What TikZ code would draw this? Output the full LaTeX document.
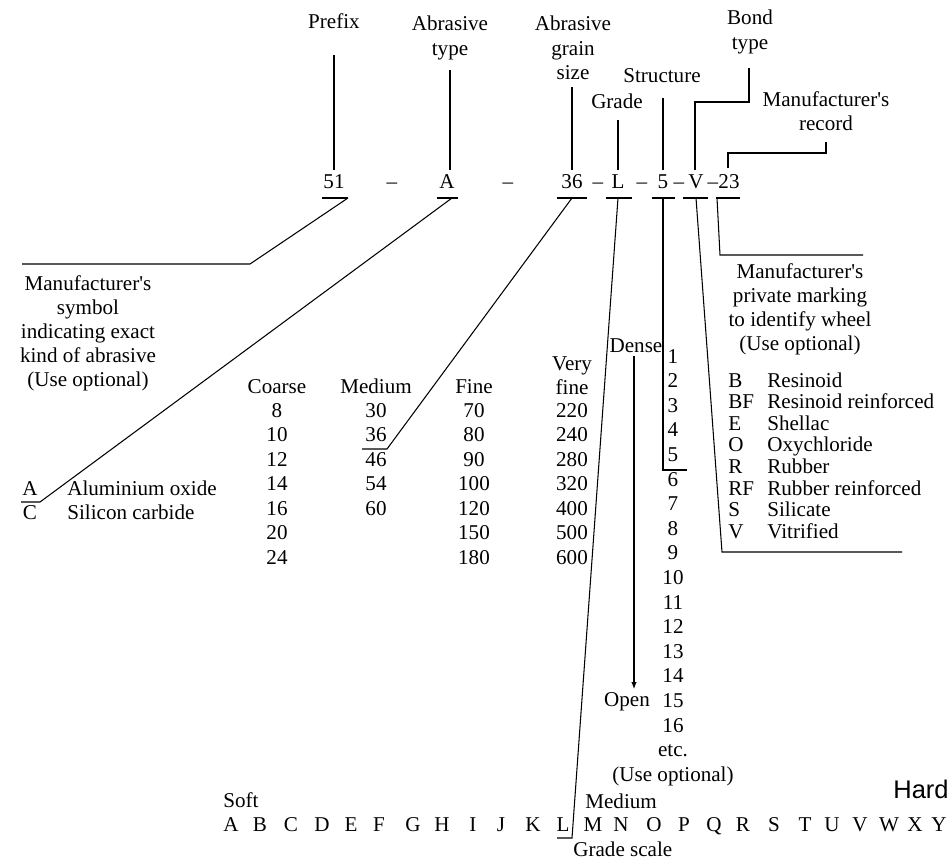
\documentclass[tikz,border=0pt]{standalone}
\usepackage{fontspec}
\setmainfont{Liberation Serif}
\newfontfamily\hardfont{Liberation Sans}
\usetikzlibrary{arrows.meta}

\newcommand{\apos}{\textquotesingle}

\tikzset{
  lbl/.style={inner sep=0pt, text height=1.5ex, text depth=.25ex},
  multi/.style={inner sep=0pt, align=center, anchor=north},
  lead/.style={line width=0.6pt},
}

\begin{document}
\begin{tikzpicture}[x=0.02cm, y=-0.02cm, every node/.style={font=\fontsize{12}{13.7}\selectfont}]
    \useasboundingbox (0,0) rectangle (950,862);

    % headings above the marking
    \node [lbl] (prefix) at (334, 23) {Prefix};
    \node [multi] (abtype) at (450, 16) {Abrasive\\type};
    \node [multi] (grain) at (573, 16) {Abrasive\\grain\\size};
    \node [lbl] (struct) at (662, 77) {Structure};
    \node [lbl] (grade) at (617, 103) {Grade};
    \node [multi] (bond) at (750, 10) {Bond\\type};
    \node [multi] (record) at (826, 91) {Manufacturer\apos s\\record};

    % the marking
    \node [lbl] (c51) at (334, 183) {51};
    \node [lbl] (d1) at (392, 183) {--};
    \node [lbl] (cA) at (447, 183) {A};
    \node [lbl] (d2) at (508, 183) {--};
    \node [lbl] (c36) at (572, 183) {36};
    \node [lbl] (d3) at (598, 183) {--};
    \node [lbl] (cL) at (618, 183) {L};
    \node [lbl] (d4) at (642, 183) {--};
    \node [lbl] (c5) at (663, 183) {5};
    \node [lbl] (d5) at (679, 183) {--};
    \node [lbl] (cV) at (696, 183) {V};
    \node [lbl] (d6) at (713, 183) {--};
    \node [lbl] (c23) at (729, 183) {23};

    \coordinate (pfxT) at (334, 55);   \coordinate (pfxB) at (334, 170);
    \coordinate (abtT) at (450, 70);   \coordinate (abtB) at (450, 170);
    \coordinate (grnT) at (572, 87);   \coordinate (grnB) at (572, 170);
    \coordinate (grdT) at (618, 120);  \coordinate (grdB) at (618, 170);
    \coordinate (strT) at (663, 98);   \coordinate (strB) at (663, 170);
    \coordinate (bndT) at (749, 68);   \coordinate (bndB) at (695, 170);
    \coordinate (recT) at (826, 142);  \coordinate (recB) at (728, 168);

    \draw [lead] (pfxT) -- (pfxB);
    \draw [lead] (abtT) -- (abtB);
    \draw [lead] (grnT) -- (grnB);
    \draw [lead] (grdT) -- (grdB);
    \draw [lead] (strT) -- (strB);
    \draw [lead] (bndT) -- ++(0, 34) -| (bndB);
    \draw [lead] (recT) -- ++(0, 11) -| (recB);

    % underlines
    \draw [lead] (322, 198) -- (348, 198);
    \draw [lead] (437, 198) -- (458, 198);
    \draw [lead] (557, 198) -- (587, 198);
    \draw [lead] (606, 198) -- (632, 198);
    \draw [lead] (652, 198) -- (675, 198);
    \draw [lead] (683, 198) -- (708, 198);
    \draw [lead] (716, 198) -- (740, 198);

    % manufacturer's symbol
    \node [multi] (symbol) at (88, 275) {Manufacturer\apos s\\symbol\\indicating exact\\kind of abrasive\\(Use optional)};
    \draw [lead] (348, 198) -- (250, 264) -- (22, 264);

    % abrasive type
    \node [lbl] (tA) at (30, 490) {A};
    \node [lbl, anchor=west] (alox) at (67, 490) {Aluminium oxide};
    \node [lbl] (tC) at (30, 514) {C};
    \node [lbl, anchor=west] (sic) at (67, 514) {Silicon carbide};
    \draw [lead] (452, 198) -- (40, 502) -- (21, 502);

    % grain size table
    \node [lbl] (coarse) at (277, 388) {Coarse};
    \node [lbl] (medium) at (376, 388) {Medium};
    \node [lbl] (fine) at (474, 388) {Fine};
    \node [multi] (vfine) at (572, 356) {Very\\fine};
    \foreach \v [count=\i from 0] in {8,10,12,14,16,20,24}
        \node [lbl] (co\i) at (277, {412+24.5*\i}) {\v};
    \foreach \v [count=\i from 0] in {30,36,46,54,60}
        \node [lbl] (me\i) at (376, {412+24.5*\i}) {\v};
    \foreach \v [count=\i from 0] in {70,80,90,100,120,150,180}
        \node [lbl] (fi\i) at (474, {412+24.5*\i}) {\v};
    \foreach \v [count=\i from 0] in {220,240,280,320,400,500,600}
        \node [lbl] (vf\i) at (572, {412+24.5*\i}) {\v};
    \draw [lead] (572, 198) -- (387, 449) -- (362, 449);

    % structure
    \node [lbl] (dense) at (636, 347) {Dense};
    \node [lbl] (open) at (627, 701) {Open};
    \foreach \i in {1,...,16}
        \node [lbl] (st\i) at (673, {358+24.6*(\i-1)}) {\i};
    \node [lbl] (etc) at (673, 751) {etc.};
    \node [lbl] (stopt) at (673, 776) {(Use optional)};
    \draw [lead, -{Latex[length=4pt, width=3pt]}, shorten <=1pt, shorten >=2.5pt]
        (dense.south -| 634, 0) -- (open.north -| 634, 0);
    \draw [lead] (663, 198) -- (663, 470) -- (687, 470);

    % bond types
    \foreach \b/\n [count=\i from 0] in {B/Resinoid, BF/Resinoid reinforced, E/Shellac,
        O/Oxychloride, R/Rubber, RF/Rubber reinforced, S/Silicate, V/Vitrified} {
        \node [lbl, anchor=west] (bl\i) at (728, {382+21.6*\i}) {\b};
        \node [lbl, anchor=west] (bn\i) at (767, {382+21.6*\i}) {\n};
    }
    \draw [lead] (696, 198) -- (722, 552) -- (902, 552);

    % manufacturer's private marking
    \node [multi] (private) at (800, 263) {Manufacturer\apos s\\private marking\\to identify wheel\\(Use optional)};
    \draw [lead] (717, 198) -- (720, 255) -- (863, 255);

    % grade scale
    \node [lbl] (soft) at (241, 802) {Soft};
    \node [lbl, anchor=west] (gmed) at (585, 803) {Medium};
    \node [lbl, font=\hardfont\fontsize{14.5}{16}\selectfont] (hard) at (921, 793) {Hard};
    \foreach \g/\x in {A/231, B/260, C/291, D/322, E/351, F/379, G/413, H/442,
        I/473, J/501, K/533, L/563, M/593, N/621, O/654, P/684, Q/714, R/743,
        S/774, T/805, U/832, V/860, W/889, X/915, Y/939}
        \node [lbl] (g\g) at (\x, 826) {\g};
    \node [lbl, anchor=west] (gscale) at (573, 851) {Grade scale};
    \draw [lead] (618, 198) -- (572, 838) -- (557, 838);
\end{tikzpicture}
\end{document}
